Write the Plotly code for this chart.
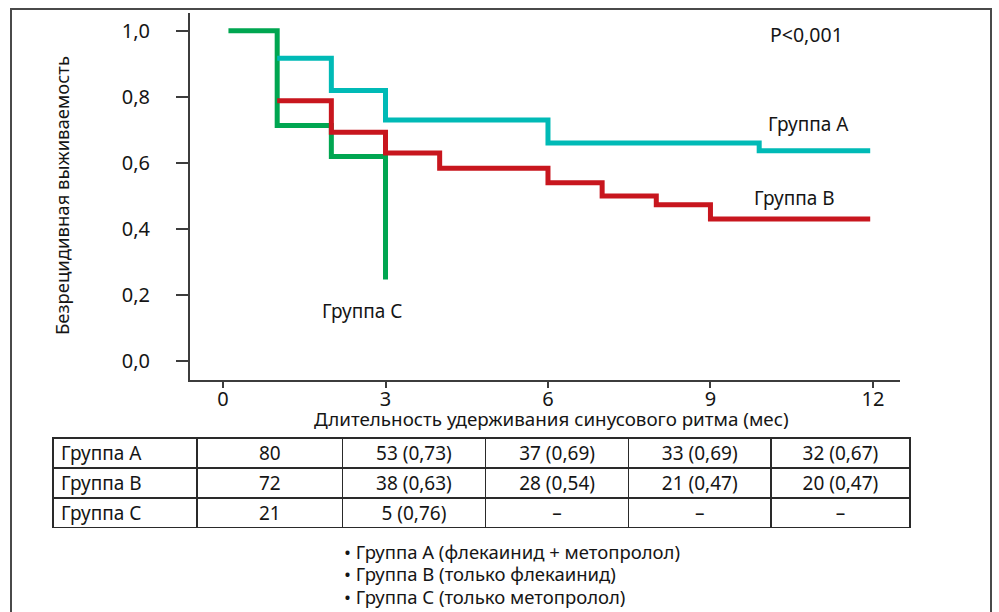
import plotly.graph_objects as go

# Kaplan–Meier step curves (months, survival without recurrence)
months_a = [1.0, 2.0, 3.0, 6.0, 9.9, 11.95]
surv_a = [0.917, 0.819, 0.73, 0.66, 0.637, 0.637]

months_b = [1.0, 2.0, 3.0, 4.0, 6.0, 7.0, 8.0, 9.0, 11.95]
surv_b = [0.788, 0.693, 0.63, 0.584, 0.54, 0.50, 0.473, 0.43, 0.43]

months_c = [0.1, 1.0, 2.0, 3.0]
surv_c = [1.0, 0.713, 0.619, 0.247]

x_ticks = [0, 3, 6, 9, 12]
y_ticks = [0.0, 0.2, 0.4, 0.6, 0.8, 1.0]
y_tick_text = ["0,0", "0,2", "0,4", "0,6", "0,8", "1,0"]

# Number at risk table
table_groups = ["Группа А", "Группа В", "Группа С"]
table_t0 = ["80", "72", "21"]
table_t3 = ["53 (0,73)", "38 (0,63)", "5 (0,76)"]
table_t6 = ["37 (0,69)", "28 (0,54)", "–"]
table_t9 = ["33 (0,69)", "21 (0,47)", "–"]
table_t12 = ["32 (0,67)", "20 (0,47)", "–"]

legend_lines = [
    "• Группа А (флекаинид + метопролол)",
    "• Группа В (только флекаинид)",
    "• Группа С (только метопролол)",
]

COL_A = "#00BAB6"
COL_B = "#C8161E"
COL_C = "#00A651"
FONT = "Noto Sans"
INK = "#151515"
AXIS = "#3c3c3c"

W, H = 999, 612


def px(x):
    return x / W


def py(y):
    return 1 - y / H


fig = go.Figure()

for xs, ys, col in [(months_c, surv_c, COL_C), (months_b, surv_b, COL_B), (months_a, surv_a, COL_A)]:
    fig.add_trace(go.Scatter(
        x=xs, y=ys, mode="lines", line=dict(color=col, width=5, shape="hv"),
        showlegend=False, hoverinfo="skip",
    ))

cols = [table_groups, table_t0, table_t3, table_t6, table_t9, table_t12]
fig.add_trace(go.Table(
    domain=dict(x=[px(53), px(910)], y=[py(528), py(438)]),
    columnwidth=[144, 145, 143, 143, 142, 139],
    header=dict(
        values=[c[0] for c in cols],
        align=["left"] + ["center"] * 5,
        height=30, line=dict(color="#2a2a2a", width=1.5), fill=dict(color="white"),
        font=dict(family=FONT, size=19, color=INK),
    ),
    cells=dict(
        values=[c[1:] for c in cols],
        align=["left"] + ["center"] * 5,
        height=30, line=dict(color="#2a2a2a", width=1.5), fill=dict(color="white"),
        font=dict(family=FONT, size=19, color=INK),
    ),
))

fig.update_layout(
    width=W, height=H,
    margin=dict(l=0, r=0, t=0, b=0),
    paper_bgcolor="white", plot_bgcolor="white",
    font=dict(family=FONT, color=INK),
    xaxis=dict(
        domain=[px(190), px(900)], range=[-0.61, 12.5],
        tickvals=x_ticks, ticks="outside", ticklen=6, tickwidth=1.5, tickcolor=AXIS,
        showline=True, linecolor=AXIS, linewidth=2, showgrid=False, zeroline=False,
        tickfont=dict(size=20, family=FONT, color=INK), ticklabelstandoff=-6,
    ),
    yaxis=dict(
        domain=[py(380), py(13)], range=[-0.0576, 1.054],
        tickvals=y_ticks, ticktext=y_tick_text, ticks="outside", ticklen=12, tickwidth=1.5,
        tickcolor=AXIS, showline=True, linecolor=AXIS, linewidth=2, showgrid=False,
        zeroline=False, tickfont=dict(size=20, family=FONT, color=INK), ticklabelstandoff=22,
    ),
)

ann = [
    dict(text="Длительность удерживания синусового ритма (мес)", x=px(551), y=py(419), size=18.8),
    dict(text="Безрецидивная выживаемость", x=px(62), y=py(196), size=18.5, angle=-90),
    dict(text="P<0,001", x=px(806), y=py(34), size=19.5),
    dict(text="Группа А", x=px(808), y=py(124), size=19),
    dict(text="Группа В", x=px(794), y=py(198), size=19),
    dict(text="Группа С", x=px(362), y=py(311), size=19),
]
for a in ann:
    fig.add_annotation(
        text=a["text"], x=a["x"], y=a["y"], xref="paper", yref="paper",
        xanchor="center", yanchor="middle", showarrow=False, textangle=a.get("angle", 0),
        font=dict(family=FONT, size=a["size"], color=INK),
    )

for i, line in enumerate(legend_lines):
    fig.add_annotation(
        text=line, x=px(342), y=py(551 + i * 22.5), xref="paper", yref="paper",
        xanchor="left", yanchor="middle", showarrow=False,
        font=dict(family=FONT, size=18.5, color=INK),
    )

# outer frame
fig.add_shape(type="rect", xref="paper", yref="paper",
              x0=px(11), x1=px(991), y0=py(640), y1=py(9),
              line=dict(color="#4a4a4a", width=2))

fig.write_html("out.html")
